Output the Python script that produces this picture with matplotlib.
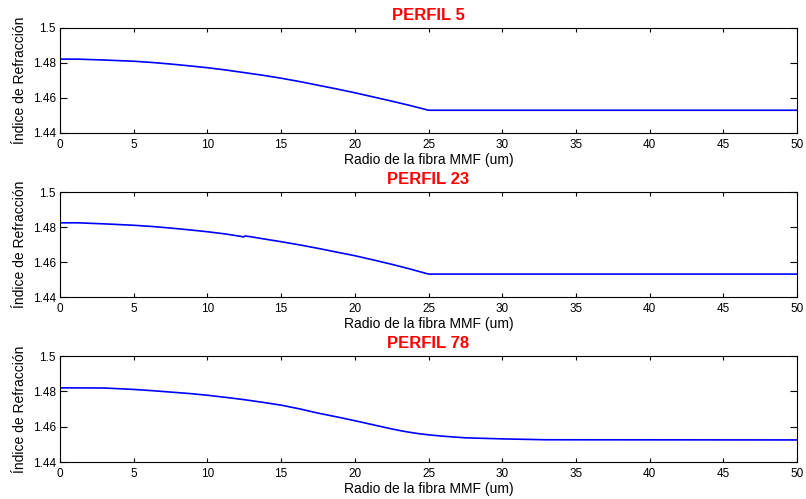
import matplotlib
matplotlib.use('Agg')
import matplotlib.pyplot as plt

plt.rcParams['font.family'] = ['Liberation Sans', 'DejaVu Sans']

# radius (um) and refractive index
r5 = [0, 1.2, 3.0, 5, 6.25, 7.5, 8.75, 10, 11.25, 12.5, 13.75, 15, 16.25,
      17.5, 18.75, 20, 21.25, 22.5, 23.75, 25, 50]
n5 = [1.4822, 1.4822, 1.4817, 1.4810, 1.4803, 1.4794, 1.4784, 1.4773,
      1.4760, 1.4745, 1.4730, 1.4713, 1.4694, 1.4673, 1.4652, 1.4630,
      1.4606, 1.4582, 1.4557, 1.4530, 1.4530]

r23 = [0, 1.2, 3.0, 5, 6.25, 7.5, 8.75, 10, 11.25, 12.3, 12.45, 12.55,
       12.9, 13.75, 15, 16.25, 17.5, 18.75, 20, 21.25, 22.5, 23.75, 25, 50]
n23 = [1.4824, 1.4824, 1.4818, 1.4810, 1.4803, 1.4794, 1.4784, 1.4773,
       1.4760, 1.4746, 1.4743, 1.4749, 1.4745, 1.4733, 1.4716, 1.4698,
       1.4678, 1.4657, 1.4636, 1.4612, 1.4587, 1.4560, 1.4531, 1.4531]

r78 = [0, 3.0, 5, 6.25, 7.5, 8.75, 10, 11.25, 12.5, 13.75, 15, 16.25, 17.5,
       18.75, 20, 21.5, 22.3, 23, 23.6, 24.3, 25, 26, 27.5, 30, 33, 50]
n78 = [1.4820, 1.4819, 1.4811, 1.4804, 1.4796, 1.4788, 1.4778, 1.4766,
       1.4753, 1.4738, 1.4722, 1.4701, 1.4677, 1.4656, 1.4634, 1.4606,
       1.4591, 1.4579, 1.4570, 1.4561, 1.4554, 1.4546, 1.4537, 1.4531,
       1.4526, 1.4525]

titles = ['PERFIL 5', 'PERFIL 23', 'PERFIL 78']
profiles = [(r5, n5), (r23, n23), (r78, n78)]

x_ticks = list(range(0, 51, 5))
y_ticks = [1.44, 1.46, 1.48, 1.5]
y_labels = ['1.44', '1.46', '1.48', '1.5']

fig = plt.figure(figsize=(8.06, 4.99), dpi=100)
positions = [
    [0.0744, 0.7335, 0.9145, 0.2104],
    [0.0744, 0.4048, 0.9145, 0.2104],
    [0.0744, 0.0741, 0.9145, 0.2124],
]

for pos, title, (r, n) in zip(positions, titles, profiles):
    ax = fig.add_axes(pos)
    ax.plot(r, n, color='#0000ff', linewidth=1.2)
    ax.set_xlim(0, 50)
    ax.set_ylim(1.44, 1.5)
    ax.set_xticks(x_ticks)
    ax.set_yticks(y_ticks)
    ax.set_yticklabels(y_labels)
    ax.tick_params(axis='both', direction='in', top=True, right=True,
                   labelsize=8.5, width=0.8)
    ax.tick_params(axis='x', length=3, pad=4)
    ax.tick_params(axis='y', length=5, pad=3)
    for s in ax.spines.values():
        s.set_linewidth(0.8)
    ax.set_title(title, color='#ff0000', fontsize=12, fontweight='bold', pad=6)
    ax.set_xlabel('Radio de la fibra MMF (um)', fontsize=10, labelpad=1.5)
    ax.set_ylabel('Índice de Refracción', fontsize=10, labelpad=4)

fig.savefig('out.png', dpi=100)
